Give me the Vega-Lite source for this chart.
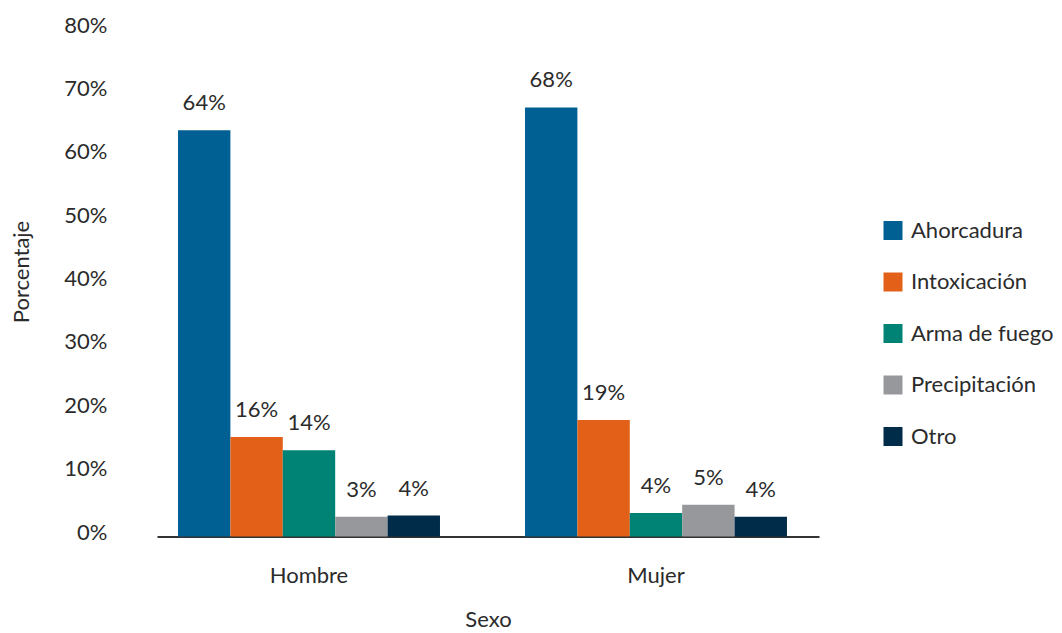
{
  "$schema": "https://vega.github.io/schema/vega-lite/v6.json",
  "autosize": {"type": "none"},
  "padding": {"left": 157, "top": 29.5, "right": 243, "bottom": 96.5},
  "width": 662,
  "height": 507,
  "background": "white",
  "config": {
    "font": "Lato",
    "view": {"stroke": null},
    "axis": {"labelFont": "Lato", "titleFont": "Lato", "labelColor": "#2b2b2b", "titleColor": "#2b2b2b", "labelFontSize": 22, "titleFontSize": 22, "titleFontWeight": "normal", "grid": false, "ticks": false},
    "legend": {"labelFont": "Lato", "labelColor": "#2b2b2b", "labelFontSize": 22}
  },
  "data": {
    "values": [
      {"Sexo": "Hombre", "Causa": "Ahorcadura", "valor": 0.641, "etiqueta": "64%"},
      {"Sexo": "Hombre", "Causa": "Intoxicación", "valor": 0.157, "etiqueta": "16%"},
      {"Sexo": "Hombre", "Causa": "Arma de fuego", "valor": 0.136, "etiqueta": "14%"},
      {"Sexo": "Hombre", "Causa": "Precipitación", "valor": 0.031, "etiqueta": "3%"},
      {"Sexo": "Hombre", "Causa": "Otro", "valor": 0.033, "etiqueta": "4%"},
      {"Sexo": "Mujer", "Causa": "Ahorcadura", "valor": 0.677, "etiqueta": "68%"},
      {"Sexo": "Mujer", "Causa": "Intoxicación", "valor": 0.184, "etiqueta": "19%"},
      {"Sexo": "Mujer", "Causa": "Arma de fuego", "valor": 0.037, "etiqueta": "4%"},
      {"Sexo": "Mujer", "Causa": "Precipitación", "valor": 0.050, "etiqueta": "5%"},
      {"Sexo": "Mujer", "Causa": "Otro", "valor": 0.031, "etiqueta": "4%"}
    ]
  },
  "encoding": {
    "x": {
      "field": "Sexo", "type": "nominal", "title": "Sexo",
      "scale": {"paddingInner": 0.245, "paddingOuter": 0.0764, "align": 0.396},
      "axis": {"labelAngle": 0, "domainColor": "#333333", "domainWidth": 2, "labelPadding": 29, "titlePadding": 23}
    },
    "xOffset": {
      "field": "Causa", "type": "nominal",
      "sort": ["Ahorcadura", "Intoxicación", "Arma de fuego", "Precipitación", "Otro"],
      "scale": {"paddingInner": 0, "paddingOuter": 0}
    },
    "y": {
      "field": "valor", "type": "quantitative", "title": "Porcentaje",
      "scale": {"domain": [0, 0.8], "nice": false},
      "axis": {"values": [0, 0.1, 0.2, 0.3, 0.4, 0.5, 0.6, 0.7, 0.8], "format": ".0%", "domain": false, "labelPadding": 50, "labelOffset": -4.5, "titlePadding": 30, "titleY": 242}
    }
  },
  "layer": [
    {
      "mark": {"type": "bar"},
      "encoding": {
        "color": {
          "field": "Causa", "type": "nominal",
          "scale": {
            "domain": ["Ahorcadura", "Intoxicación", "Arma de fuego", "Precipitación", "Otro"],
            "range": ["#005f93", "#e26018", "#008374", "#97989b", "#002b49"]
          },
          "legend": {
            "title": null, "orient": "none", "legendX": 725, "legendY": 190,
            "symbolType": "square", "symbolSize": 361, "symbolStrokeWidth": 0,
            "labelOffset": 7, "rowPadding": 29.5, "padding": 0
          }
        }
      }
    },
    {
      "mark": {"type": "text", "baseline": "middle", "align": "center", "dy": -27, "fontSize": 22, "color": "#2b2b2b", "font": "Lato"},
      "encoding": {"text": {"field": "etiqueta"}}
    }
  ]
}
